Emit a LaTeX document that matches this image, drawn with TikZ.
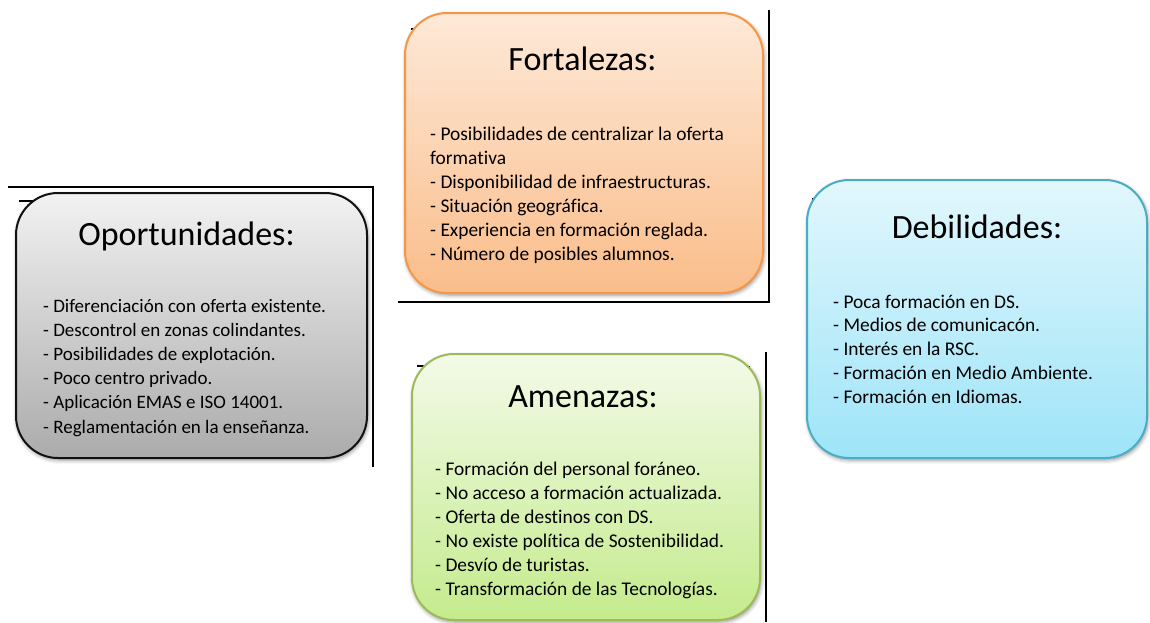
\documentclass[tikz,border=0pt]{standalone}
\usepackage{fontspec}
\setmainfont[Ligatures=NoCommon]{Carlito}
\usetikzlibrary{shadows.blur}
\definecolor{grayTop}{HTML}{F2F2F2}
\definecolor{grayBot}{HTML}{ABABAB}
\definecolor{grayLine}{HTML}{111111}
\definecolor{orTop}{HTML}{FEE9D8}
\definecolor{orBot}{HTML}{FABD8A}
\definecolor{orLine}{HTML}{F79646}
\definecolor{blTop}{HTML}{E2F7FD}
\definecolor{blBot}{HTML}{9EE4F8}
\definecolor{blLine}{HTML}{4BACC6}
\definecolor{grTop}{HTML}{F3FAE8}
\definecolor{grBot}{HTML}{C4EB8C}
\definecolor{grLine}{HTML}{9BBB59}
\begin{document}
\begin{tikzpicture}[x=1pt,y=-1pt,
  swot/.style={draw, line width=2pt, rounded corners=42pt, inner sep=0pt,
    blur shadow={shadow xshift=1pt, shadow yshift=-2pt, shadow blur radius=4pt, shadow opacity=45}},
  titletext/.style={anchor=base, inner sep=0pt, font=\fontsize{34}{40}\selectfont},
  itemtext/.style={anchor=base west, inner sep=0pt, font=\fontsize{19.4}{24}\selectfont},
  itemtight/.style={itemtext, font=\fontsize{19}{24}\selectfont},
  frameline/.style={line width=1.2pt, black}]
\useasboundingbox (0,0) rectangle (1150,622);

% stray frame lines
\coordinate (fa1) at (8,187);   \coordinate (fa2) at (373,187);  \coordinate (fa3) at (373,467);
\coordinate (fb1) at (19,201);  \coordinate (fb2) at (34,201);
\coordinate (fc1) at (769,10);  \coordinate (fc2) at (769,302);  \coordinate (fc3) at (398,302);
\coordinate (fd1) at (411,29);  \coordinate (fd2) at (420,29);
\coordinate (fe1) at (752,29);  \coordinate (fe2) at (752,34);
\coordinate (ff1) at (766,352); \coordinate (ff2) at (766,622);
\coordinate (fg1) at (417,366); \coordinate (fg2) at (426,366);
\coordinate (fh1) at (749,366); \coordinate (fh2) at (749,372);
\coordinate (fi1) at (813,198); \coordinate (fi2) at (813,206);
\draw[frameline] (fa1) -- (fa2) -- (fa3);
\draw[frameline] (fb1) -- (fb2);
\draw[frameline] (fc1) -- (fc2) -- (fc3);
\draw[frameline] (fd1) -- (fd2);
\draw[frameline] (fe1) -- (fe2);
\draw[frameline] (ff1) -- (ff2);
\draw[frameline] (fg1) -- (fg2);
\draw[frameline] (fh1) -- (fh2);
\draw[frameline] (fi1) -- (fi2);

% boxes
\node[swot, draw=grayLine, top color=grayTop, bottom color=grayBot,
  minimum width=351pt, minimum height=265pt] (opp) at (191.5,325.5) {};
\node[swot, draw=orLine, top color=orTop, bottom color=orBot,
  minimum width=358pt, minimum height=280pt] (fort) at (584,153) {};
\node[swot, draw=blLine, top color=blTop, bottom color=blBot,
  minimum width=340pt, minimum height=278pt] (deb) at (977,319) {};
\node[swot, draw=grLine, top color=grTop, bottom color=grBot,
  minimum width=348pt, minimum height=266pt] (ame) at (586,487) {};

% titles
\node[titletext] (oppT) at (186.5,245) {Oportunidades:};
\node[titletext] (fortT) at (582.5,70) {Fortalezas:};
\node[titletext] (debT) at (977,238) {Debilidades:};
\node[titletext] (ameT) at (583,407) {Amenazas:};

% items
\foreach \t [count=\i] in {- Diferenciación con oferta existente.,
  - Descontrol en zonas colindantes.,
  - Posibilidades de explotación.,
  - Poco centro privado.,
  - Aplicación EMAS e ISO 14001.,
  - Reglamentación en la enseñanza.}
  \node[itemtight] (o\i) at (43,{312+24.2*(\i-1)}) {\t};

\foreach \t [count=\i] in {- Posibilidades de centralizar la oferta,
  formativa,
  - Disponibilidad de infraestructuras.,
  - Situación geográfica.,
  - Experiencia en formación reglada.,
  - Número de posibles alumnos.}
  \node[itemtext] (f\i) at (430,{140+24*(\i-1)}) {\t};

\foreach \t [count=\i] in {- Poca formación en DS.,
  - Medios de comunicacón.,
  - Interés en la RSC.,
  - Formación en Medio Ambiente.,
  - Formación en Idiomas.}
  \node[itemtext] (d\i) at (833,{308+23.8*(\i-1)}) {\t};

\foreach \t [count=\i] in {- Formación del personal foráneo.,
  - No acceso a formación actualizada.,
  - Oferta de destinos con DS.,
  - No existe política de Sostenibilidad.,
  - Desvío de turistas.,
  - Transformación de las Tecnologías.}
  \node[itemtext] (a\i) at (435,{475+24*(\i-1)}) {\t};
\end{tikzpicture}
\end{document}
